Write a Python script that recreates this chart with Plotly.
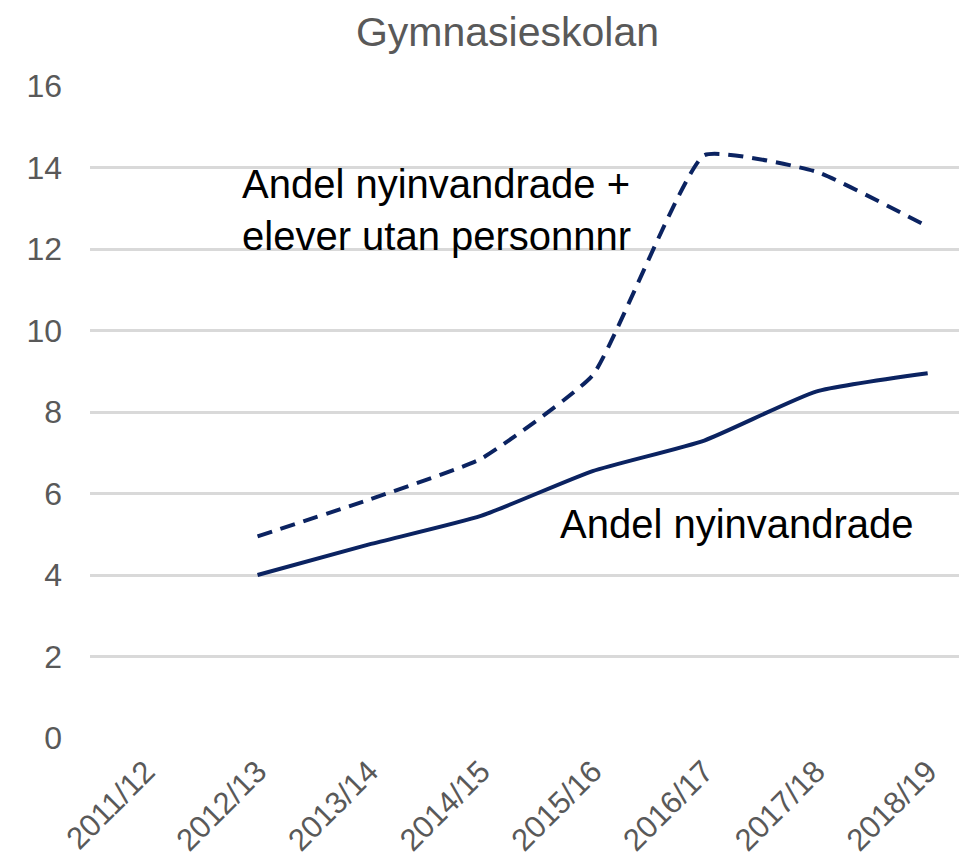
import plotly.graph_objects as go

categories = ["2011/12", "2012/13", "2013/14", "2014/15", "2015/16", "2016/17", "2017/18", "2018/19"]
andel_nyinvandrade = [None, 4.0, 4.75, 5.45, 6.55, 7.3, 8.5, 8.95]
andel_inkl_utan_personnr = [None, 4.95, 5.85, 6.85, 8.9, 14.3, 13.9, 12.55]
y_ticks = [0, 2, 4, 6, 8, 10, 12, 14, 16]

navy = "#0B2361"
grey_text = "#595959"
FONT = "Liberation Sans, Arial"

W, H = 959, 857
L, T, PH = 82, 78, 652

fig = go.Figure()
fig.add_trace(go.Scatter(
    x=list(range(len(categories))), y=andel_nyinvandrade, mode="lines",
    line=dict(color=navy, width=4, shape="spline", smoothing=0.5),
    showlegend=False, hoverinfo="skip"))
fig.add_trace(go.Scatter(
    x=list(range(len(categories))), y=andel_inkl_utan_personnr, mode="lines",
    line=dict(color=navy, width=4, dash="15px,9px", shape="spline", smoothing=0.4),
    showlegend=False, hoverinfo="skip"))

fig.add_annotation(x=0.846, y=12.95, xref="x", yref="y", xanchor="left", yanchor="middle",
                   align="left", showarrow=False,
                   text="Andel nyinvandrade +<br>elever utan personnnr",
                   font=dict(family=FONT, size=40, color="#000000"))
fig.add_annotation(x=3.69, y=5.25, xref="x", yref="y", xanchor="left", yanchor="middle",
                   showarrow=False, text="Andel nyinvandrade",
                   font=dict(family=FONT, size=40, color="#000000"))

fig.update_layout(
    width=W, height=H,
    margin=dict(l=L, r=0, t=T, b=H - T - PH, autoexpand=False),
    paper_bgcolor="white", plot_bgcolor="white",
    font=dict(family=FONT, color=grey_text),
    title=dict(text="Gymnasieskolan", x=0.476, xref="paper", xanchor="center",
               y=1 - 24 / H, yref="container", yanchor="middle",
               font=dict(family=FONT, size=41, color=grey_text)),
    xaxis=dict(
        tickmode="array", tickvals=list(range(len(categories))), ticktext=categories,
        range=[-0.5, 7.352], tickangle=-45, showgrid=False, zeroline=False,
        showline=False, ticks="", ticklabelstandoff=8, automargin=False,
        tickfont=dict(size=31, color=grey_text)),
    yaxis=dict(
        range=[0, 16], tickvals=y_ticks, showgrid=True, gridcolor="#D9D9D9", gridwidth=3,
        zeroline=False, showline=False, ticks="", ticklabelstandoff=27, automargin=False,
        tickfont=dict(size=32, color=grey_text)),
)

fig.write_html("out.html")
